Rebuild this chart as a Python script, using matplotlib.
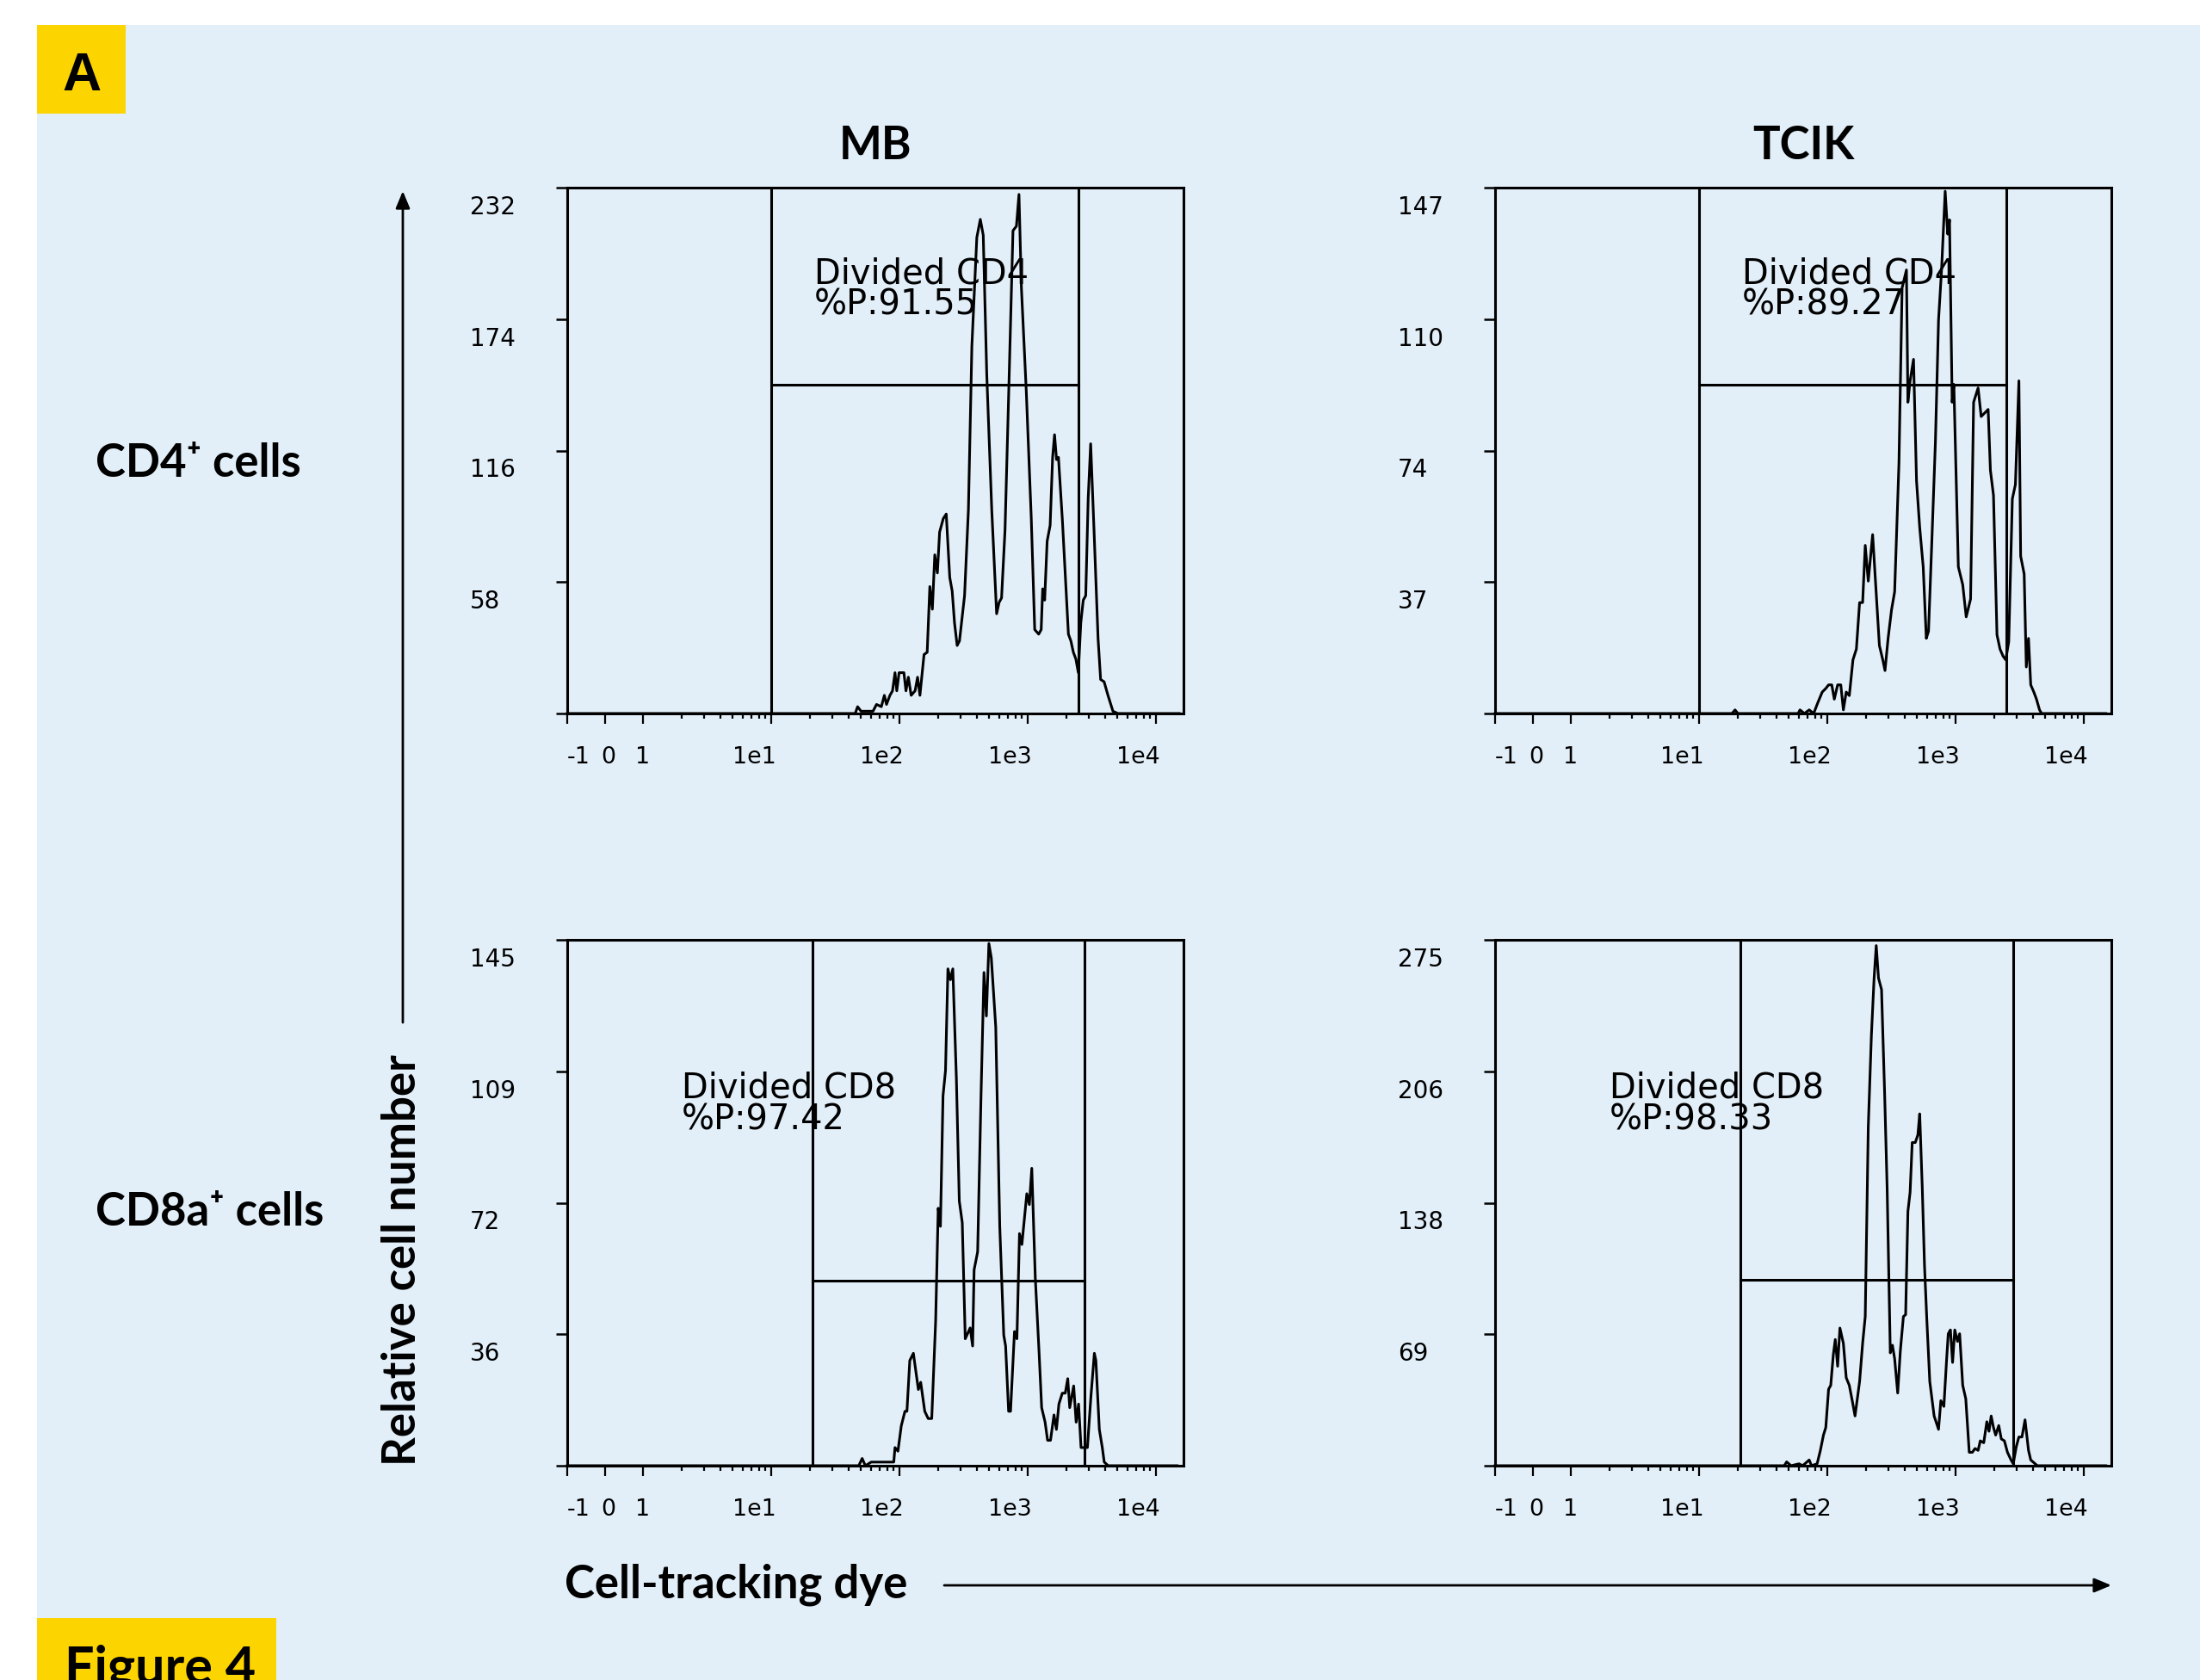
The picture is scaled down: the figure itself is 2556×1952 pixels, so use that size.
import matplotlib
matplotlib.use('Agg')
import matplotlib.pyplot as plt
from matplotlib.patches import Rectangle
from matplotlib.ticker import FixedLocator, NullFormatter, NullLocator
from matplotlib.transforms import offset_copy

W, H, DPI = 2556, 1952, 200
BLUE = '#e2eff9'
YELLOW = '#fcd400'
BOLD_FONT = ['Lato', 'DejaVu Sans']

col_titles = ['MB', 'TCIK']
row_labels = ['CD4⁺ cells', 'CD8a⁺ cells']
gate_names = ['Divided CD4', 'Divided CD4', 'Divided CD8', 'Divided CD8']
gate_pct = ['91.55', '89.27', '97.42', '98.33']
y_max = [232, 147, 145, 275]
gate_lo = [10, 10, 21, 21]
gate_hi = [2500, 2480, 2780, 2810]
gate_y = [145, 92, 51, 97]
xtick_vals = [-1, 0, 1, 10, 100, 1000, 10000]
xtick_text = ['-1', '0', '1', '1e1', '1e2', '1e3', '1e4']

# histograms: dye intensity vs. cell count
mb_cd4_x = [-1, 45, 47, 50, 62, 66, 72, 76, 79, 84, 88, 92, 95, 99, 108, 112, 117, 123, 132, 138,
            144, 155, 164, 172, 180, 188, 197, 205, 219, 231, 246, 257, 268, 281, 293, 321, 344, 366, 400, 426,
            449, 478, 523, 571, 597, 624, 664, 713, 766, 815, 853, 891, 973, 1064, 1132, 1216, 1271, 1306, 1353, 1415,
            1493, 1561, 1616, 1675, 1734, 1862, 2073, 2168, 2266, 2371, 2477, 2590, 2707, 2830, 2958, 3092, 3289, 3532,
            3698, 3936, 4220, 4613, 5046, 15170]
mb_cd4_y = [0, 0, 3, 1, 1, 4, 3, 8, 4, 8, 10, 18, 10, 18, 18, 10, 16, 8, 10, 16,
            8, 26, 27, 56, 46, 70, 62, 80, 86, 88, 60, 54, 40, 30, 32, 52, 90, 162, 210, 218,
            211, 150, 90, 44, 49, 51, 81, 146, 213, 215, 229, 188, 142, 86, 37, 35, 37, 55, 50, 76,
            83, 113, 123, 112, 113, 85, 35, 32, 27, 24, 18, 40, 50, 52, 95, 119, 80, 33,
            15, 14, 8, 1, 0, 0]

tcik_cd4_x = [-1, 18, 19, 20, 59, 61, 66, 72, 78, 84, 91, 97, 102, 108, 113, 120, 127, 133, 140, 148,
              158, 168, 178, 188, 197, 208, 225, 234, 254, 270, 281, 297, 316, 334, 361, 382, 413, 424, 441, 469,
              495, 524, 558, 590, 614, 653, 695, 735, 776, 828, 867, 895, 939, 968, 1049, 1135, 1208, 1307, 1380, 1496,
              1581, 1683, 1792, 1866, 1972, 2100, 2218, 2344, 2457, 2594, 2767, 2924, 3114, 3213, 3422, 3556, 3700, 3851,
              4070, 4269, 4511, 4688, 14830]
tcik_cd4_y = [0, 0, 1, 0, 0, 1, 0, 1, 0, 3, 6, 7, 8, 8, 4, 8, 8, 1, 6, 5,
              15, 18, 31, 31, 47, 37, 50, 40, 19, 15, 12, 21, 29, 34, 70, 119, 124, 87, 93, 99,
              65, 52, 41, 21, 23, 49, 76, 110, 124, 146, 134, 138, 87, 92, 41, 36, 27, 32, 87, 91,
              83, 84, 85, 68, 61, 22, 18, 16, 15, 20, 60, 64, 93, 44, 39, 13, 21, 8,
              6, 4, 1, 0, 0]

mb_cd8_x = [-1, 48, 51, 54, 60, 72, 79, 90, 92, 97, 103, 110, 114, 120, 128, 140, 146, 157, 167, 178,
            191, 200, 208, 218, 228, 238, 249, 260, 277, 292, 308, 325, 355, 371, 381, 406, 432, 455, 475, 497,
            519, 562, 604, 649, 671, 708, 733, 787, 822, 861, 899, 982, 1028, 1074, 1143, 1225, 1282, 1364, 1426, 1503,
            1600, 1672, 1748, 1858, 1959, 2049, 2123, 2279, 2382, 2489, 2601, 2767, 2917, 3105, 3304, 3396, 3613, 3811,
            3945, 4236, 14620]
mb_cd8_y = [0, 0, 2, 0, 1, 1, 1, 1, 5, 4, 11, 15, 15, 29, 31, 21, 23, 15, 13, 13,
            40, 71, 66, 102, 109, 137, 134, 137, 107, 73, 67, 35, 38, 33, 54, 59, 103, 136, 124, 144,
            140, 121, 66, 36, 33, 15, 15, 37, 35, 64, 61, 75, 72, 82, 52, 31, 16, 12, 7, 7,
            14, 10, 17, 20, 20, 24, 16, 22, 12, 17, 5, 5, 5, 19, 31, 29, 10, 5,
            1, 0, 0]

tcik_cd8_x = [-1, 46, 48, 52, 60, 64, 72, 75, 83, 88, 93, 97, 102, 106, 111, 115, 120, 125, 133, 140,
              148, 156, 164, 178, 188, 197, 208, 220, 231, 240, 250, 264, 279, 292, 309, 321, 334, 353, 370, 391,
              407, 424, 441, 458, 484, 507, 524, 549, 571, 594, 628, 679, 735, 766, 809, 847, 875, 910, 946, 984,
              1033, 1074, 1135, 1199, 1276, 1349, 1416, 1496, 1556, 1656, 1750, 1820, 1892, 1972, 2051, 2168, 2270, 2399,
              2535, 2704, 2812, 2972, 3112, 3289, 3476, 3700, 3851, 4169, 4335, 14830]
tcik_cd8_y = [0, 0, 2, 0, 1, 0, 3, 0, 1, 8, 16, 20, 40, 42, 58, 66, 52, 72, 64, 46,
              42, 34, 26, 44, 64, 78, 177, 225, 255, 272, 255, 249, 195, 145, 59, 63, 56, 38, 60, 78,
              79, 133, 143, 169, 169, 173, 184, 145, 105, 78, 44, 26, 19, 34, 31, 54, 69, 71, 54, 71,
              65, 69, 42, 35, 7, 7, 9, 8, 13, 12, 23, 18, 26, 20, 16, 21, 14, 13,
              7, 3, 1, 10, 15, 15, 24, 8, 3, 1, 0, 0]


def px_rect(left, top, right, bottom):
    return [left / W, 1 - bottom / H, (right - left) / W, (bottom - top) / H]


def draw_panel(fig, ax, i, xs, ys, text_x, text_y):
    lw = 1.1
    ax.set_facecolor('none')
    ax.set_xscale('symlog', linthresh=1, linscale=0.267)
    ax.set_xlim(-1, 16384)
    ax.set_ylim(0, y_max[i])
    for s in ax.spines.values():
        s.set_linewidth(lw)

    ax.plot(xs, ys, color='k', lw=lw, clip_on=False, zorder=3)
    ax.axvline(gate_lo[i], color='k', lw=lw)
    ax.axvline(gate_hi[i], color='k', lw=lw)
    ax.plot([gate_lo[i], gate_hi[i]], [gate_y[i], gate_y[i]], color='k', lw=lw)

    minor = [m * 10 ** k for k in range(4) for m in range(2, 10)]
    ax.xaxis.set_major_locator(FixedLocator(xtick_vals))
    ax.xaxis.set_minor_locator(FixedLocator(minor))
    ax.xaxis.set_major_formatter(NullFormatter())
    ax.xaxis.set_minor_formatter(NullFormatter())
    ax.tick_params(axis='x', which='major', direction='out', length=4.3, width=0.8)
    ax.tick_params(axis='x', which='minor', direction='out', length=2.2, width=0.8)

    yt = [0] + [y_max[i] * f for f in (0.25, 0.5, 0.75, 1.0)]
    ax.set_yticks(yt)
    ax.yaxis.set_minor_locator(NullLocator())
    ax.tick_params(axis='y', direction='out', length=4.7, width=0.9, labelleft=False)

    # tick labels placed by hand, like the cytometer export
    xt = ax.get_xaxis_transform()
    for v, s in zip(xtick_vals, xtick_text):
        if s == '-1':
            ha, dx = 'left', 0
        elif s == '0':
            ha, dx = 'center', 4
        elif s == '1':
            ha, dx = 'center', -1
        else:
            ha, dx = 'right', 5
        ax.text(v, 0, s, transform=offset_copy(xt, fig=fig, x=dx, y=-58, units='dots'),
                ha=ha, va='baseline', fontsize=9.7, family='DejaVu Sans')
    ytr = offset_copy(ax.get_yaxis_transform(), fig=fig, x=-113, y=-31, units='dots')
    for v in yt[1:]:
        ax.text(0, v, str(round(v)), transform=ytr, ha='left', va='baseline',
                fontsize=10, family='DejaVu Sans')

    ax.text(text_x, text_y[0], gate_names[i], transform=xt, fontsize=14.4,
            ha='left', va='baseline', family='DejaVu Sans')
    ax.text(text_x, text_y[1], '%P:' + gate_pct[i], transform=xt, fontsize=14.4,
            ha='left', va='baseline', family='DejaVu Sans')


def main():
    fig = plt.figure(figsize=(W / DPI, H / DPI), dpi=DPI, facecolor='white')

    bg = fig.add_axes([0, 0, 1, 1], zorder=0)
    bg.set_xlim(0, W)
    bg.set_ylim(H, 0)
    bg.axis('off')
    bg.add_patch(Rectangle((43, 29), W - 43, H - 29, facecolor=BLUE, edgecolor='none'))
    bg.add_patch(Rectangle((43, 29), 103, 103, facecolor=YELLOW, edgecolor='none'))
    bg.text(95, 105, 'A', fontsize=22.5, fontweight='bold', family=['Liberation Sans', 'DejaVu Sans'],
            ha='center', va='baseline')
    bg.add_patch(Rectangle((43, 1880), 278, 80, facecolor=YELLOW, edgecolor='none'))
    # panel caption runs off the bottom edge, as in the source page
    bg.text(75, 1956, 'Figure 4', fontsize=22, fontweight='bold', family=BOLD_FONT,
            ha='left', va='baseline')

    bg.text(111, 554, row_labels[0], fontsize=19, fontweight='bold', family=BOLD_FONT,
            ha='left', va='baseline')
    bg.text(111, 1424, row_labels[1], fontsize=19, fontweight='bold', family=BOLD_FONT,
            ha='left', va='baseline')
    bg.text(483, 1464, 'Relative cell number', rotation=90, rotation_mode='anchor',
            fontsize=19, fontweight='bold', family=BOLD_FONT, ha='center', va='baseline')
    bg.text(656, 1857, 'Cell-tracking dye', fontsize=19, fontweight='bold', family=BOLD_FONT,
            ha='left', va='baseline')

    arrow = dict(arrowstyle='-|>,head_length=0.6,head_width=0.25', color='k', lw=1.0,
                 shrinkA=0, shrinkB=0, mutation_scale=10)
    bg.annotate('', xy=(468, 222), xytext=(468, 1188), arrowprops=arrow)
    bg.annotate('', xy=(2453, 1842), xytext=(1097, 1842), arrowprops=arrow)

    panels = [(mb_cd4_x, mb_cd4_y), (tcik_cd4_x, tcik_cd4_y),
              (mb_cd8_x, mb_cd8_y), (tcik_cd8_x, tcik_cd8_y)]
    col_left = [659, 1737]
    row_top = [218, 1092]
    text_pos = [(21.5, (0.817, 0.758)), (2.0, (0.699, 0.639))]
    for i, (xs, ys) in enumerate(panels):
        r, c = divmod(i, 2)
        ax = fig.add_axes(px_rect(col_left[c], row_top[r], col_left[c] + 716, row_top[r] + 611), zorder=1)
        draw_panel(fig, ax, i, xs, ys, text_pos[r][0], text_pos[r][1])
        if r == 0:
            ax.set_title(col_titles[c], fontsize=19, fontweight='bold', family=BOLD_FONT, pad=11.9)

    fig.savefig('out.png', dpi=DPI, facecolor='white')


if __name__ == "__main__":
    main()
